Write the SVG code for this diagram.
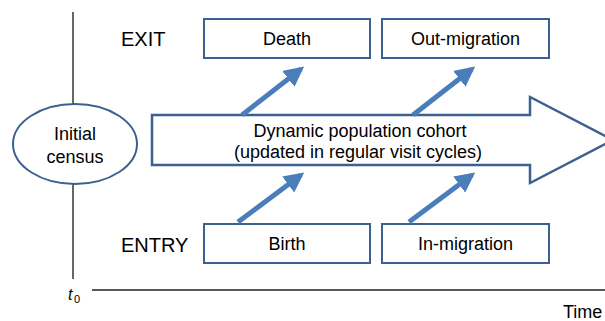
<svg xmlns="http://www.w3.org/2000/svg" width="605" height="321" viewBox="0 0 605 321">
<style>
text{font-family:"Liberation Sans",Arial,sans-serif;fill:#000}
.box{fill:#fff;stroke:#3c6191;stroke-width:2}
.lbl{font-size:18px;text-anchor:middle}
.big{font-size:20px}
.flow{stroke:#4a7ebb;stroke-width:5;fill:none}
</style>
<defs>
<marker id="ah" viewBox="0 0 10 10" refX="8" refY="5" markerWidth="4" markerHeight="4" orient="auto" markerUnits="strokeWidth">
<path d="M0,0 L10,5 L0,10 z" fill="#4a7ebb"/>
</marker>
</defs>
<rect width="605" height="321" fill="#fff"/>
<g id="axes">
<line x1="73" y1="12" x2="73" y2="104" stroke="#000" stroke-width="1.2"/>
<line x1="73" y1="184" x2="73" y2="279" stroke="#000" stroke-width="1.2"/>
<line x1="92" y1="290" x2="605" y2="290" stroke="#595959" stroke-width="2"/>
<text x="68" y="300" font-size="16" font-style="italic">t</text>
<text x="74" y="303" font-size="11">0</text>
<text x="563" y="318" font-size="18">Time</text>
</g>
<text x="121" y="46" class="big">EXIT</text>
<text x="121" y="252" class="big">ENTRY</text>
<g id="cohort">
<path d="M152,115 H530 V97 L613,140 L530,183 V165 H152 Z" fill="#fff" stroke="#3c6191" stroke-width="2.5"/>
<text x="360" y="137" class="lbl">Dynamic population cohort</text>
<text x="358" y="158" class="lbl">(updated in regular visit cycles)</text>
</g>
<g id="census">
<ellipse cx="75" cy="144" rx="62" ry="40" fill="#fff" stroke="#3c6191" stroke-width="2"/>
<text x="75" y="140" class="lbl">Initial</text>
<text x="75" y="163" class="lbl">census</text>
</g>
<g id="death">
<rect x="204" y="19" width="166" height="39" class="box"/>
<text x="287" y="45" class="lbl">Death</text>
</g>
<g id="outmigration">
<rect x="382" y="19" width="167" height="39" class="box"/>
<text x="465.5" y="45" class="lbl">Out-migration</text>
</g>
<g id="birth">
<rect x="204" y="224" width="166" height="39" class="box"/>
<text x="287" y="250" class="lbl">Birth</text>
</g>
<g id="inmigration">
<rect x="382" y="224" width="167" height="39" class="box"/>
<text x="465.5" y="250" class="lbl">In-migration</text>
</g>
<g id="connectors">
<line x1="242" y1="115" x2="301" y2="69" class="flow" marker-end="url(#ah)"/>
<line x1="413" y1="115" x2="472" y2="69" class="flow" marker-end="url(#ah)"/>
<line x1="238" y1="222" x2="301" y2="175" class="flow" marker-end="url(#ah)"/>
<line x1="409" y1="222" x2="472" y2="175" class="flow" marker-end="url(#ah)"/>
</g>
</svg>
